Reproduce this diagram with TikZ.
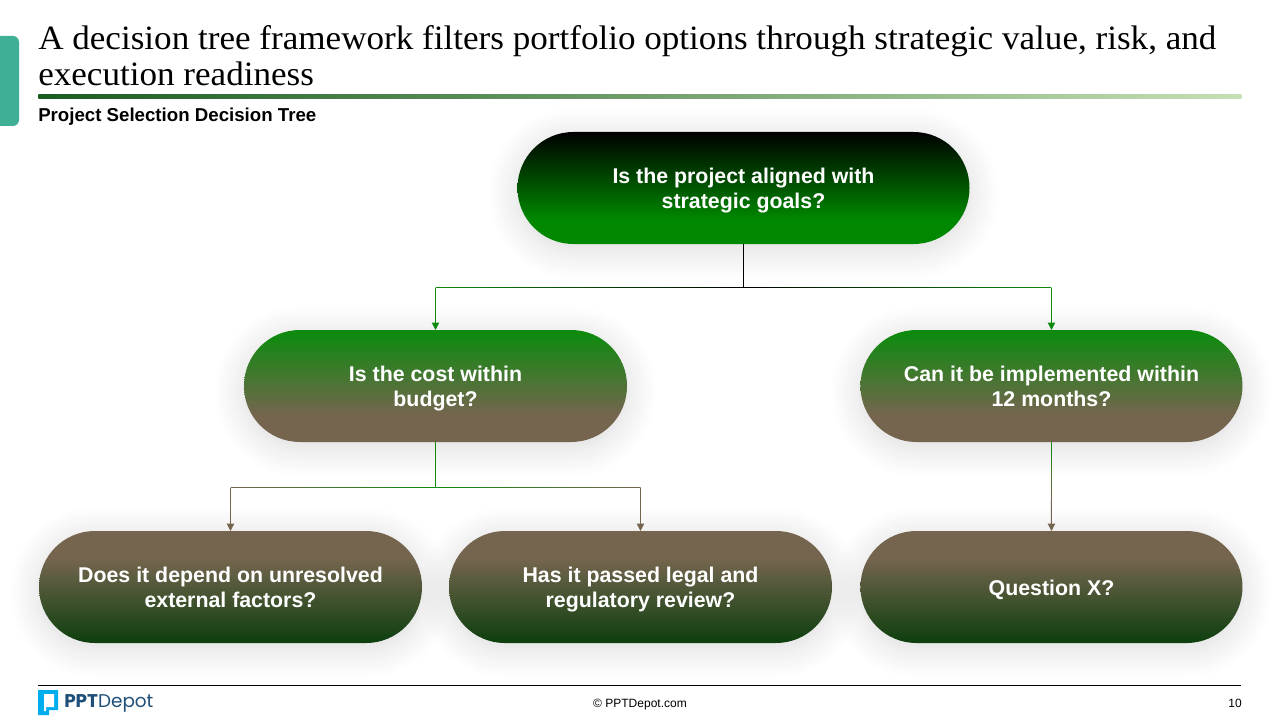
\documentclass[tikz,border=0pt]{standalone}
\usepackage{fontspec}
\setmainfont{Liberation Sans}
\newfontfamily\titlefont[FakeStretch=1.03]{Liberation Serif}
\newfontfamily\logofont{Poppins}
\usetikzlibrary{arrows.meta, positioning, calc, shadows.blur}

\definecolor{leafgreen}{HTML}{008800}
\definecolor{midgreen}{HTML}{0F8A0F}
\definecolor{mudbrown}{HTML}{75654F}
\definecolor{darkgreen}{HTML}{0F3F0F}
\definecolor{tabgreen}{HTML}{3FB095}
\definecolor{logoblue}{HTML}{00AEEF}
\definecolor{logonavy}{HTML}{1F4E79}
\definecolor{ruledark}{HTML}{1A5C20}
\definecolor{rulelight}{HTML}{C5E0B4}

\pgfdeclareverticalshading{rootshade}{100bp}{color(0bp)=(leafgreen); color(36bp)=(leafgreen); color(75bp)=(black); color(100bp)=(black)}
\pgfdeclareverticalshading{branchshade}{100bp}{color(0bp)=(mudbrown); color(37bp)=(mudbrown); color(73bp)=(midgreen); color(100bp)=(midgreen)}
\pgfdeclareverticalshading{leafshade}{100bp}{color(0bp)=(darkgreen); color(26bp)=(darkgreen); color(63bp)=(mudbrown); color(100bp)=(mudbrown)}

\tikzset{
  question/.style={rectangle, rounded corners=41.9pt, minimum width=287.25pt, minimum height=84pt, inner sep=0pt, outer sep=0pt, align=center,
    text=white, font=\fontsize{16}{18.75}\selectfont\bfseries, text height=30pt, text depth=0pt,
    blur shadow={shadow xshift=0pt, shadow yshift=-4pt, shadow opacity=15, shadow blur radius=22pt, shadow blur steps=18}},
  drop/.style={line width=0.75pt, -{Triangle[length=5.5pt, width=5.5pt]}},
  stem/.style={line width=0.75pt}
}

% thin shaded bars for the connector parts that change colour
\newcommand{\fadeacross}[4]{\shade[left color=#3, right color=#4] ($(#1)+(0,-0.45)$) rectangle ($(#2)+(0,0.45)$);}
\newcommand{\fadedown}[4]{\shade[top color=#3, bottom color=#4] ($(#1)+(-0.45,0)$) rectangle ($(#2)+(0.45,0)$);}

\begin{document}
\begin{tikzpicture}[x=0.75pt, y=-0.75pt]
  \useasboundingbox (0,0) rectangle (1280,720);

  % Side tab
  \fill[tabgreen] (0,36) [rounded corners=4.5pt] -- (19,36) -- (19,126) [sharp corners] -- (0,126) -- cycle;

  % Heading
  \node (headline) [anchor=north west, inner sep=0pt, align=left, font=\titlefont\fontsize{25.55}{27}\selectfont] at (38,25) {A decision tree framework filters portfolio options through strategic value, risk, and\\execution readiness};
  \node (headrule) [anchor=west, inner sep=0pt, minimum width=902.25pt, minimum height=3pt, left color=ruledark, right color=rulelight] at (38,97) {};
  \node (subhead) [anchor=west, inner sep=0pt, font=\fontsize{14}{16}\selectfont\bfseries] at (38,117) {Project Selection Decision Tree};

  % Root question
  \node (rootq) [question, shading=rootshade, minimum width=339pt, text height=31pt] at (743.5,188) {Is the project aligned with\\strategic goals?};

  % Second row
  \node (costq) [question, shading=branchshade, below=64.5pt of rootq, xshift=-231pt] {Is the cost within\\budget?};
  \node (timeq) [question, shading=branchshade, minimum width=286.5pt, right=175.1pt of costq] {Can it be implemented within\\12 months?};

  % Third row
  \node (dependq) [question, shading=leafshade, below=66.75pt of costq, xshift=-153.75pt] {Does it depend on unresolved\\external factors?};
  \node (legalq) [question, shading=leafshade, right=20.25pt of dependq] {Has it passed legal and\\regulatory review?};
  \node (otherq) [question, shading=leafshade, minimum width=286.5pt, text height=12pt, below=66.75pt of timeq] {Question X?};

  % Root to second row
  \coordinate (rootjoin) at ($(rootq.south)+(0,43.5)$);
  \coordinate (costturn) at (costq.north |- rootjoin);
  \coordinate (timeturn) at (timeq.north |- rootjoin);
  \draw[stem, black] (rootq.south) -- (rootjoin);
  \fadeacross{costturn}{rootjoin}{midgreen}{black}
  \fadeacross{rootjoin}{timeturn}{black}{midgreen}
  \draw[drop, midgreen] (costturn) -- (costq.north);
  \draw[drop, midgreen] (timeturn) -- (timeq.north);

  % Cost to third row
  \coordinate (costjoin) at ($(costq.south)+(0,45.5)$);
  \coordinate (dependturn) at (dependq.north |- costjoin);
  \coordinate (legalturn) at (legalq.north |- costjoin);
  \draw[stem, midgreen] (costq.south) -- (costjoin);
  \fadeacross{dependturn}{costjoin}{mudbrown}{midgreen}
  \fadeacross{costjoin}{legalturn}{midgreen}{mudbrown}
  \draw[drop, mudbrown] (dependturn) -- (dependq.north);
  \draw[drop, mudbrown] (legalturn) -- (legalq.north);

  % Time to third row
  \coordinate (timemid) at ($(timeq.south)!0.65!(otherq.north)$);
  \fadedown{timeq.south}{timemid}{midgreen}{mudbrown}
  \draw[drop, mudbrown] (timemid) -- (otherq.north);

  % Footer
  \node (footrule) [anchor=west, inner sep=0pt, minimum width=902.25pt, minimum height=0.75pt, fill=black] at (38,685.5) {};
  \node (copyright) [inner sep=0pt, font=\fontsize{9}{11}\selectfont] at (640,705) {© PPTDepot.com};
  \node (pagenum) [anchor=east, inner sep=0pt, font=\fontsize{9}{11}\selectfont] at (1242,703) {10};

  % Logo
  \fill[logoblue] (38,690) -- (58,690) -- (58,710) -- (49,710) -- (49,715) -- (38,715) -- cycle;
  \fill[white] (44,694) -- (54,694) -- (54,707) -- (46,707) -- (46,711) -- (44,711) -- cycle;
  \node (logoname) [anchor=west, inner sep=0pt, text=logonavy, font=\logofont\fontsize{13.8}{16}\selectfont] at (64,703) {\textbf{PPT}Depot};
\end{tikzpicture}
\end{document}
